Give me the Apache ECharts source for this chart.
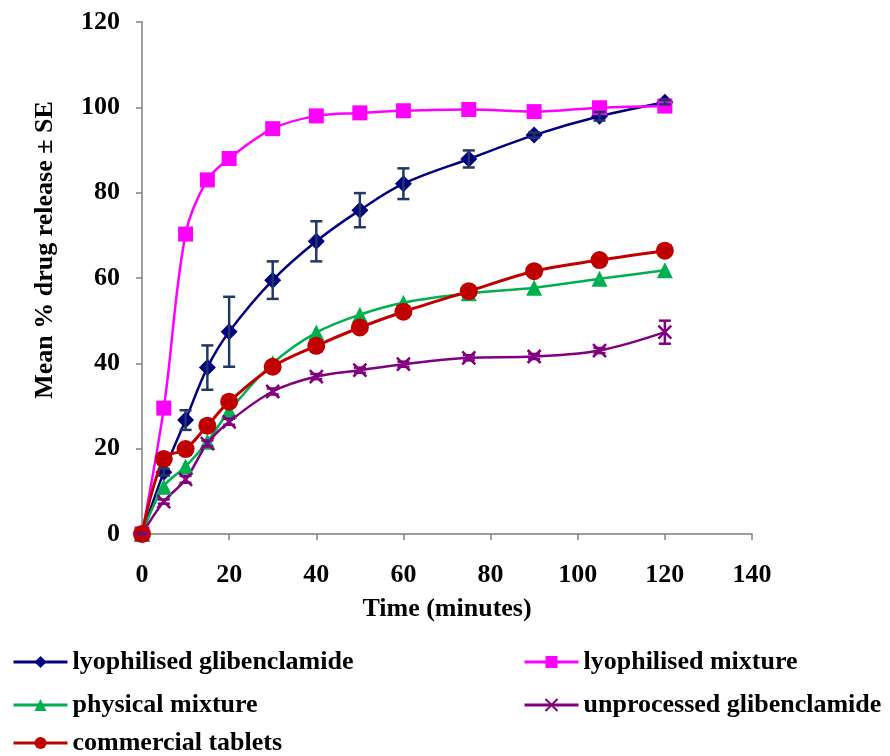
<!DOCTYPE html>
<html>
<head>
<meta charset="utf-8">
<script src="https://cdn.jsdelivr.net/npm/echarts@6/dist/echarts.min.js"></script>
<style>
  html, body { margin: 0; padding: 0; background: #fff; }
  #chart { width: 890px; height: 756px; }
</style>
</head>
<body>
<div id="chart"></div>
<script>
// time points (minutes)
var times = [0, 5, 10, 15, 20, 30, 40, 50, 60, 75, 90, 105, 120]
// mean % drug release
var lyoGlib = [0, 14.5, 26.7, 39, 47.4, 59.5, 68.6, 75.9, 82.1, 87.9, 93.5, 97.9, 101.2]
var lyoMix = [0, 29.5, 70.3, 83, 88, 95, 98, 98.7, 99.2, 99.5, 99, 99.9, 100.3]
var physMix = [0, 11.1, 15.8, 21.6, 28.8, 40, 47.2, 51.4, 54.2, 56.4, 57.7, 59.8, 61.8]
var unprocGlib = [0, 7.6, 12.8, 21.2, 26.3, 33.4, 36.9, 38.4, 39.8, 41.3, 41.6, 43, 47.3]
var commTab = [0, 17.6, 19.9, 25.4, 31, 39.2, 44.1, 48.4, 52.1, 56.9, 61.6, 64.2, 66.4]
// standard errors
var lyoGlibSE = [0, 0.8, 2.3, 5.2, 8.2, 4.4, 4.7, 4.0, 3.6, 2.0, 0.6, 1.0, 0.5]
var unprocGlibSE = [0, 0.5, 0.8, 0.7, 0.7, 0.7, 0.6, 0.6, 0.6, 0.6, 0.6, 0.6, 2.7]

var font = 'Liberation Serif'

function pairs(vals) {
  return times.map(function (t, i) { return [t, vals[i]] })
}
function errData(vals, se) {
  return times.map(function (t, i) { return [t, vals[i] - se[i], vals[i] + se[i]] })
}
function errSeries(name, vals, se, color) {
  return {
    name: name,
    type: 'custom',
    z: 5,
    silent: true,
    data: errData(vals, se),
    encode: { x: 0, y: [1, 2] },
    renderItem: function (params, api) {
      var lo = api.coord([api.value(0), api.value(1)])
      var hi = api.coord([api.value(0), api.value(2)])
      var w = 6
      var st = { stroke: color, lineWidth: 2.5 }
      return {
        type: 'group',
        children: [
          { type: 'line', shape: { x1: lo[0], y1: lo[1], x2: hi[0], y2: hi[1] }, style: st },
          { type: 'line', shape: { x1: lo[0] - w, y1: lo[1], x2: lo[0] + w, y2: lo[1] }, style: st },
          { type: 'line', shape: { x1: hi[0] - w, y1: hi[1], x2: hi[0] + w, y2: hi[1] }, style: st }
        ]
      }
    }
  }
}
function lineSeries(name, vals, color, symbol, size, width, extra) {
  var s = {
    name: name,
    type: 'line',
    smooth: 0.35,
    data: pairs(vals),
    symbol: symbol,
    symbolSize: size,
    showAllSymbol: true,
    color: color,
    lineStyle: { color: color, width: width },
    itemStyle: { color: color },
    z: 3
  }
  if (extra) Object.assign(s, extra)
  return s
}

var legendText = { fontFamily: font, fontWeight: 'bold', fontSize: 26, color: '#000' }
function legendAt(name, left, top) {
  return {
    data: [name], left: left, top: top, itemWidth: 54, itemHeight: 15, itemGap: 5,
    lineStyle: { width: 3 },
    textStyle: legendText, padding: 0
  }
}

var chart = echarts.init(document.getElementById('chart'))
var option = {
  backgroundColor: '#fff',
  animation: false,
  grid: { left: 142, right: 138, top: 22, bottom: 222 },
  legend: [
    legendAt('lyophilised glibenclamide', 12, 649),
    legendAt('lyophilised mixture', 523, 649),
    legendAt('physical mixture', 12, 692),
    legendAt('unprocessed glibenclamide', 523, 692),
    legendAt('commercial tablets', 12, 730)
  ],
  xAxis: {
    type: 'value', min: 0, max: 140, interval: 20,
    name: 'Time (minutes)', nameLocation: 'middle', nameGap: 62,
    nameTextStyle: { fontFamily: font, fontWeight: 'bold', fontSize: 26, color: '#000' },
    axisLine: { lineStyle: { color: '#808080', width: 1.5 } },
    axisTick: { inside: false, length: 6, lineStyle: { color: '#808080', width: 1.5 } },
    axisLabel: { fontFamily: font, fontWeight: 'bold', fontSize: 26, color: '#000', margin: 28 },
    splitLine: { show: false }
  },
  yAxis: {
    type: 'value', min: 0, max: 120, interval: 20,
    name: 'Mean % drug release \u00b1 SE', nameLocation: 'middle', nameGap: 84,
    nameTextStyle: { fontFamily: font, fontWeight: 'bold', fontSize: 26, color: '#000', padding: [0, 0, 0, 56] },
    axisLine: { show: true, lineStyle: { color: '#808080', width: 1.5 } },
    axisTick: { show: true, inside: false, length: 6, lineStyle: { color: '#808080', width: 1.5 } },
    axisLabel: { fontFamily: font, fontWeight: 'bold', fontSize: 26, color: '#000', margin: 22 },
    splitLine: { show: false }
  },
  series: [
    lineSeries('lyophilised glibenclamide', lyoGlib, '#000080', 'diamond', 17, 2.5),
    lineSeries('lyophilised mixture', lyoMix, '#FF00FF', 'rect', 15, 2.5),
    lineSeries('physical mixture', physMix, '#00B050', 'triangle', 16, 2.5),
    lineSeries('unprocessed glibenclamide', unprocGlib, '#800080', 'path://M0,0L10,10M10,0L0,10', 13, 2.5, {
      itemStyle: { color: '#800080', borderColor: '#800080', borderWidth: 2.5 }
    }),
    lineSeries('commercial tablets', commTab, '#C00000', 'circle', 18, 3, { z: 4 }),
    errSeries('lyoGlib SE', lyoGlib, lyoGlibSE, '#1F3864'),
    errSeries('unprocGlib SE', unprocGlib, unprocGlibSE, '#800080')
  ]
}
chart.setOption(option)
</script>
</body>
</html>
